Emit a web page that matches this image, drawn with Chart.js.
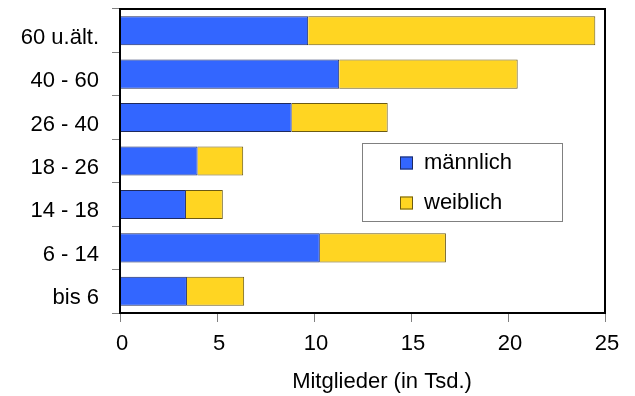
<!DOCTYPE html>
<html>
<head>
<meta charset="utf-8">
<script src="https://cdn.jsdelivr.net/npm/chart.js@4"></script>
<style>
  html, body { margin: 0; padding: 0; background: #fff; }
  canvas { display: block; }
</style>
</head>
<body>
<canvas id="chart" width="635" height="396"></canvas>
<script>
// data
const categories = ["60 u.ält.", "40 - 60", "26 - 40", "18 - 26", "14 - 18", "6 - 14", "bis 6"];
const maennlich = [9.7, 11.3, 8.85, 4.0, 3.4, 10.3, 3.45];
const weiblich = [14.8, 9.2, 4.95, 2.35, 1.9, 6.5, 2.95];
const seriesNames = ["männlich", "weiblich"];
const xTitle = "Mitglieder (in Tsd.)";

const FONT = "'Liberation Sans', Arial, sans-serif";
const blue = "#3366ff", yellow = "#ffd522";

// frame around the plot + legend box + axis title
const extras = {
    id: "extras",
    afterDraw(chart) {
        const ctx = chart.ctx;
        const a = chart.chartArea;
        ctx.save();
        ctx.strokeStyle = "#000";
        ctx.lineWidth = 2;
        ctx.strokeRect(a.left, a.top, a.right - a.left, a.bottom - a.top);

        // legend
        ctx.fillStyle = "#fff";
        ctx.fillRect(362, 143, 200, 78);
        ctx.strokeStyle = "#808080";
        ctx.lineWidth = 1;
        ctx.strokeRect(362.5, 143.5, 200, 78);
        const cols = [blue, yellow];
        const borders = ["#1f2a5c", "#6b5a14"];
        ctx.font = "22px " + FONT;
        ctx.textBaseline = "middle";
        ctx.textAlign = "left";
        seriesNames.forEach((name, i) => {
            const y = 163 + i * 40;
            ctx.fillStyle = cols[i];
            ctx.fillRect(400, y - 6.5, 13, 13);
            ctx.strokeStyle = borders[i];
            ctx.strokeRect(400.5, y - 6, 12, 12);
            ctx.fillStyle = "#000";
            ctx.fillText(name, 424, y);
        });

        // x title
        ctx.font = "22px " + FONT;
        ctx.textAlign = "center";
        ctx.fillText(xTitle, 382, 382);
        ctx.restore();
    }
};

new Chart(document.getElementById("chart"), {
    type: "bar",
    data: {
        labels: categories,
        datasets: [
            {
                label: seriesNames[0],
                data: maennlich,
                backgroundColor: blue,
                borderColor: "#1f2a5c",
                borderWidth: 1
            },
            {
                label: seriesNames[1],
                data: weiblich,
                backgroundColor: yellow,
                borderColor: "#6b5a14",
                borderWidth: 1
            }
        ]
    },
    options: {
        indexAxis: "y",
        responsive: false,
        animation: false,
        barPercentage: 0.67,
        categoryPercentage: 1,
        layout: { padding: { left: 0, top: 9, right: 30, bottom: 0 } },
        plugins: {
            legend: { display: false },
            tooltip: { enabled: false }
        },
        scales: {
            x: {
                stacked: true,
                min: 0,
                max: 25,
                ticks: {
                    stepSize: 5,
                    color: "#000",
                    font: { family: FONT, size: 22 },
                    padding: 9,
                    labelOffset: 2
                },
                grid: {
                    drawOnChartArea: false,
                    tickLength: 9,
                    color: "#808080"
                },
                border: { color: "#000", width: 2 },
                afterFit(scale) {
                    scale.height = 83;
                    scale.paddingLeft = 0;
                    scale.paddingRight = 0;
                }
            },
            y: {
                stacked: true,
                ticks: {
                    color: "#000",
                    font: { family: FONT, size: 22 },
                    padding: 13,
                    labelOffset: 7
                },
                grid: {
                    drawOnChartArea: false,
                    tickLength: 8,
                    color: "#808080"
                },
                border: { color: "#000", width: 2 },
                afterFit(scale) {
                    scale.width = 120;
                    scale.paddingTop = 0;
                    scale.paddingBottom = 0;
                }
            }
        }
    },
    plugins: [extras]
});
</script>
</body>
</html>
